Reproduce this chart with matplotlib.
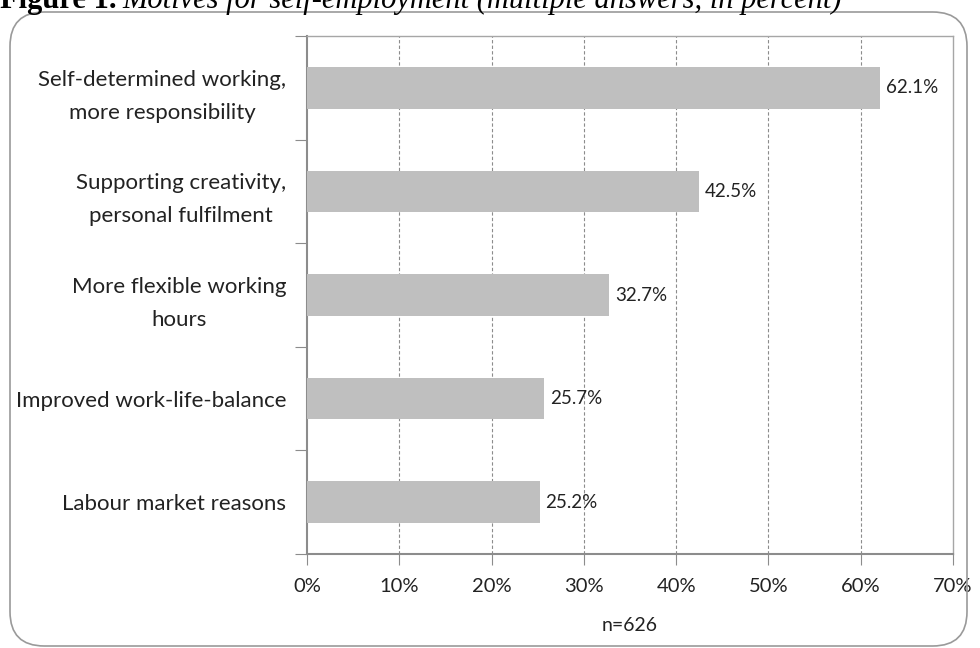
import matplotlib
matplotlib.use("Agg")
import matplotlib.pyplot as plt
from matplotlib.patches import FancyBboxPatch
from matplotlib.ticker import FixedLocator, PercentFormatter

# Data
motives = [
    "Self-determined working,\nmore responsibility",
    "Supporting creativity,\npersonal fulfilment",
    "More flexible working\nhours",
    "Improved work-life-balance",
    "Labour market reasons",
]
shares = [62.1, 42.5, 32.7, 25.7, 25.2]
n_resp = 626

W, H = 980, 648
fig = plt.figure(figsize=(W / 100, H / 100), dpi=100)


def fx(x):
    return x / W


def fy(y):
    return 1 - y / H


label_font = "Lato"
text_col = "#222222"

# rounded outer frame
frame = FancyBboxPatch((fx(10), fy(646)), fx(967) - fx(10), fy(12) - fy(646),
                       boxstyle="round,pad=0,rounding_size=0.035",
                       transform=fig.transFigure, fill=False,
                       edgecolor="#9A9A9A", linewidth=1.2, mutation_aspect=W / H)
fig.patches.append(frame)

ax = fig.add_axes([fx(307), fy(554), fx(953) - fx(307), fy(36) - fy(554)])

ypos = list(range(len(motives)))
ax.barh(ypos, shares, height=0.4, color="#BFBFBF", zorder=3)
ax.set_xlim(0, 70)
ax.set_ylim(len(motives) - 0.5, -0.5)

for y, v in zip(ypos, shares):
    ax.text(v + 0.65, y, f"{v:.1f}%", va="center", ha="left",
            fontsize=13.5, family=label_font, color=text_col, zorder=4)

# gridlines
ax.set_xticks(range(0, 71, 10))
ax.xaxis.set_major_formatter(PercentFormatter(decimals=0))
for x in range(10, 70, 10):
    ax.axvline(x, color="#8C8C8C", linestyle=(0, (3, 2)), linewidth=0.8, zorder=1)

for side in ["top", "right"]:
    ax.spines[side].set_color("#A6A6A6")
    ax.spines[side].set_linewidth(1.0)
for side in ["left", "bottom"]:
    ax.spines[side].set_color("#8C8C8C")
    ax.spines[side].set_linewidth(1.5)

ax.tick_params(axis="x", direction="out", length=8, width=0.8, color="#8C8C8C",
               pad=9, labelsize=14.5, labelcolor=text_col)
for lab in ax.get_xticklabels():
    lab.set_family(label_font)

ax.set_yticks(ypos)
ax.set_yticklabels(motives, family=label_font, fontsize=16, color=text_col,
                   ha="right", multialignment="center", linespacing=1.8)
ax.tick_params(axis="y", which="major", length=0, pad=15)
ax.yaxis.set_minor_locator(FixedLocator([i - 0.5 for i in range(len(motives) + 1)]))
ax.tick_params(axis="y", which="minor", direction="out", length=9, width=0.8,
               color="#8C8C8C")

ax.set_xlabel(f"n={n_resp}", family=label_font, fontsize=14, color=text_col,
              labelpad=16)

# cut-off caption at the top
t1 = fig.text(0, fy(8), "Figure 1.", family="Liberation Serif", weight="bold",
              fontsize=22, va="baseline", ha="left")
fig.canvas.draw()
bb = t1.get_window_extent(fig.canvas.get_renderer())
fig.text(bb.x1 / W + fx(6), fy(8), "Motives for self-employment (multiple answers, in percent)",
         family="Liberation Serif", style="italic", fontsize=22, va="baseline", ha="left")

fig.savefig("out.png", dpi=100)
